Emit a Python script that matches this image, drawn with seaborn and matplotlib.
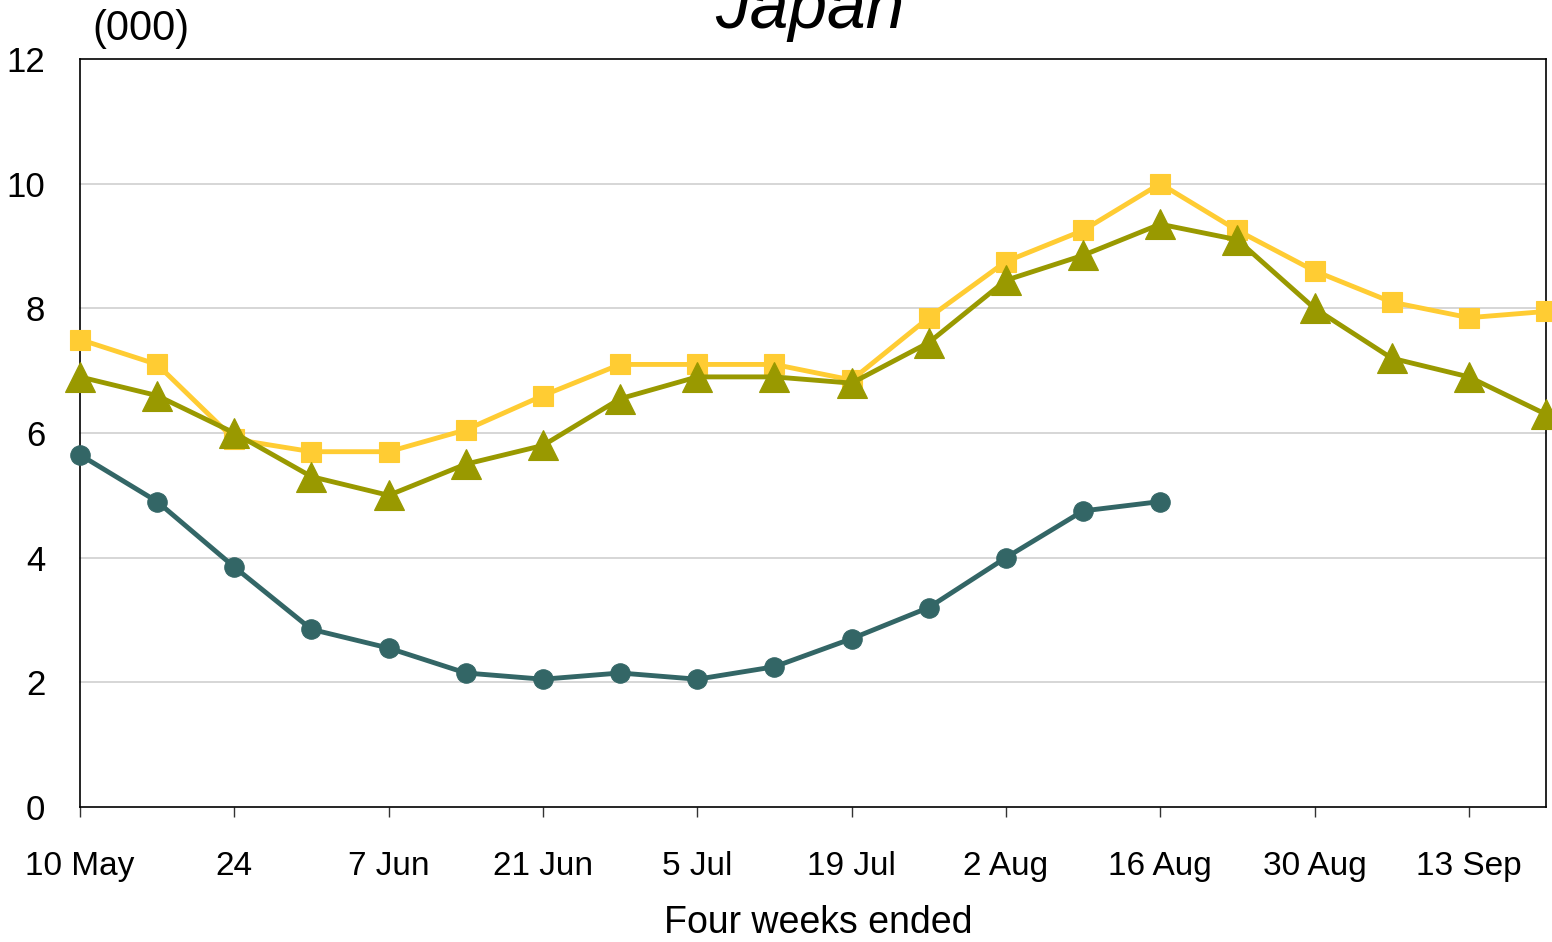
import matplotlib
matplotlib.use("Agg")
import matplotlib.pyplot as plt
import seaborn as sns
import numpy as np

weeks = list(range(20))
tick_pos = [0, 2, 4, 6, 8, 10, 12, 14, 16, 18]
tick_labels = ["10 May", "24", "7 Jun", "21 Jun", "5 Jul", "19 Jul", "2 Aug", "16 Aug", "30 Aug", "13 Sep"]

yellow_vals = [7.5, 7.1, 5.9, 5.7, 5.7, 6.05, 6.6, 7.1, 7.1, 7.1, 6.85, 7.85, 8.75, 9.25, 10.0, 9.25, 8.6, 8.1, 7.85, 7.95]
olive_vals = [6.9, 6.6, 6.0, 5.3, 5.0, 5.5, 5.8, 6.55, 6.9, 6.9, 6.8, 7.45, 8.45, 8.85, 9.35, 9.1, 8.0, 7.2, 6.9, 6.3]
teal_vals = [5.65, 4.9, 3.85, 2.85, 2.55, 2.15, 2.05, 2.15, 2.05, 2.25, 2.7, 3.2, 4.0, 4.75, 4.9]

sns.set_style("white")
plt.rcParams['font.family'] = ['Liberation Sans', 'DejaVu Sans']
plt.rcParams['text.color'] = 'black'
plt.rcParams['xtick.color'] = 'black'
plt.rcParams['ytick.color'] = 'black'
plt.rcParams['axes.labelcolor'] = 'black'

fig = plt.figure(figsize=(15.52, 9.42), dpi=100)
ax = fig.add_axes([80/1552, 1-807/942, (1546-80)/1552, (807-59)/942])

for y in [2, 4, 6, 8, 10]:
    ax.axhline(y, color="#d0d0d0", lw=1.2, zorder=0)

sns.lineplot(x=weeks, y=yellow_vals, ax=ax, color="#FFCC33", lw=3.5,
             marker="s", markersize=15, markeredgecolor="#FFCC33", markeredgewidth=0.8, zorder=3)
sns.lineplot(x=weeks, y=olive_vals, ax=ax, color="#999900", lw=3.5,
             marker="^", markersize=21, markeredgecolor="#999900", markeredgewidth=0.8, zorder=4)
sns.lineplot(x=weeks[:len(teal_vals)], y=teal_vals, ax=ax, color="#336666", lw=3.5,
             marker="o", markersize=14, markeredgecolor="#336666", markeredgewidth=0.8, zorder=5)
for ln in ax.lines:
    ln.set_clip_on(False)

ax.set_xlim(0, 19)
ax.set_ylim(0, 12)
ax.set_yticks([0, 2, 4, 6, 8, 10, 12])
ax.set_yticklabels(["0", "2", "4", "6", "8", "10", "12"], fontsize=25)
ax.set_xticks(tick_pos)
ax.set_xticklabels(tick_labels, fontsize=24)
ax.tick_params(axis="x", which="major", direction="out", length=7, width=1, color="#333333", pad=25, bottom=True)
ax.tick_params(axis="y", length=0, pad=25)
for s in ax.spines.values():
    s.set_visible(True)
    s.set_color("black")
    s.set_linewidth(1.2)

ax.set_xlabel("")
ax.set_ylabel("")
fig.text(818/1552, 1-933/942, "Four weeks ended", fontsize=27, ha="center", va="baseline")
fig.text(92/1552, 1-40/942, "(000)", fontsize=30, ha="left", va="baseline")
fig.text(810/1552, 1-28/942, "Japan", fontsize=50, style="italic", ha="center", va="baseline")

fig.savefig("out.png", dpi=100)
